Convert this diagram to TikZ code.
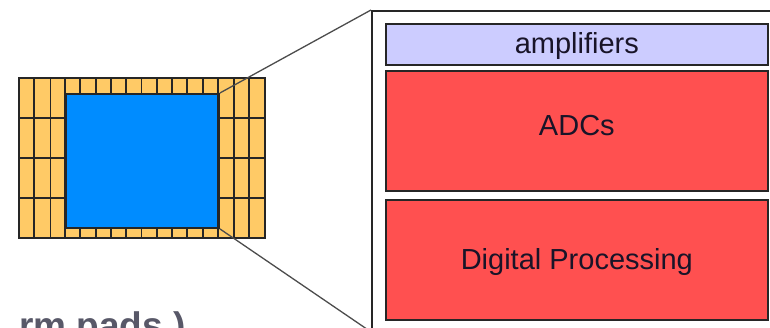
\documentclass[tikz,border=0pt]{standalone}
\usepackage{fontspec}
\setmainfont{Liberation Sans}
\begin{document}
\begin{tikzpicture}[x=1pt,y=-1pt,
  cellline/.style={draw=black!85, line width=1.9pt},
  block/.style={draw=black!85, line width=1.7pt, anchor=north west, inner sep=0pt},
  blocktext/.style={font=\fontsize{29}{31}\selectfont, text={rgb,255:red,25;green,20;blue,40}},
  zoomline/.style={draw=black!70, line width=1.3pt}]
\useasboundingbox (0,0) rectangle (770,328);
\clip (0,0) rectangle (770,328);
% chip outline with pad cells
\node[draw=none, fill={rgb,255:red,255;green,202;blue,102}, anchor=north west, minimum width=246pt, minimum height=160pt, inner sep=0pt] (chip) at (19,78) {};
% left & right columns
\foreach \x in {34.3,50.5,233.7,249.3} \draw[cellline] (\x,78) -- (\x,238);
\foreach \y in {118,158,198} {
  \draw[cellline] (19,\y) -- (65,\y);
  \draw[cellline] (218,\y) -- (265,\y);
}
% top & bottom pad strips
\foreach \i in {1,...,9} {
  \draw[cellline] ({65+\i*15.3},78) -- ({65+\i*15.3},93);
  \draw[cellline] ({65+\i*15.3},227) -- ({65+\i*15.3},238);
}
\draw[cellline] (chip.north west) rectangle (chip.south east);
% core
\node[draw=black!85, line width=1.9pt, fill={rgb,255:red,0;green,140;blue,255}, anchor=north west, minimum width=153pt, minimum height=134pt, inner sep=0pt] (core) at (65,93) {};
\draw[cellline] (65,78) -- (65,238);
\draw[cellline] (218,78) -- (218,238);
% detail box
\node[draw=black!85, line width=1.9pt, fill=white, anchor=north west, minimum width=403pt, minimum height=320pt, inner sep=0pt] (detail) at (371,10) {};
\node[block, fill={rgb,255:red,204;green,204;blue,255}, minimum width=382pt, minimum height=41pt] (amp) at (385,23) {};
\node[blocktext] at ([yshift=-1.5pt]amp.center) {amplifiers};
\node[block, fill={rgb,255:red,255;green,80;blue,80}, minimum width=382pt, minimum height=120pt] (adc) at (385,70) {};
\node[blocktext] at ([yshift=5pt]adc.center) {ADCs};
\node[block, fill={rgb,255:red,255;green,80;blue,80}, minimum width=382pt, minimum height=120pt] (dp) at (385,199) {};
\node[blocktext] at ([yshift=-2.5pt]dp.center) {Digital Processing};
% zoom lines
\draw[zoomline] (core.north east) -- (detail.north west);
\draw[zoomline] (core.south east) -- (detail.south west);
% clipped caption
\node[anchor=base east, inner sep=0pt, font=\bfseries\fontsize{37}{40}\selectfont, text={rgb,255:red,88;green,88;blue,104}] (cap) at (186,338) {rm pads )};
\end{tikzpicture}
\end{document}
